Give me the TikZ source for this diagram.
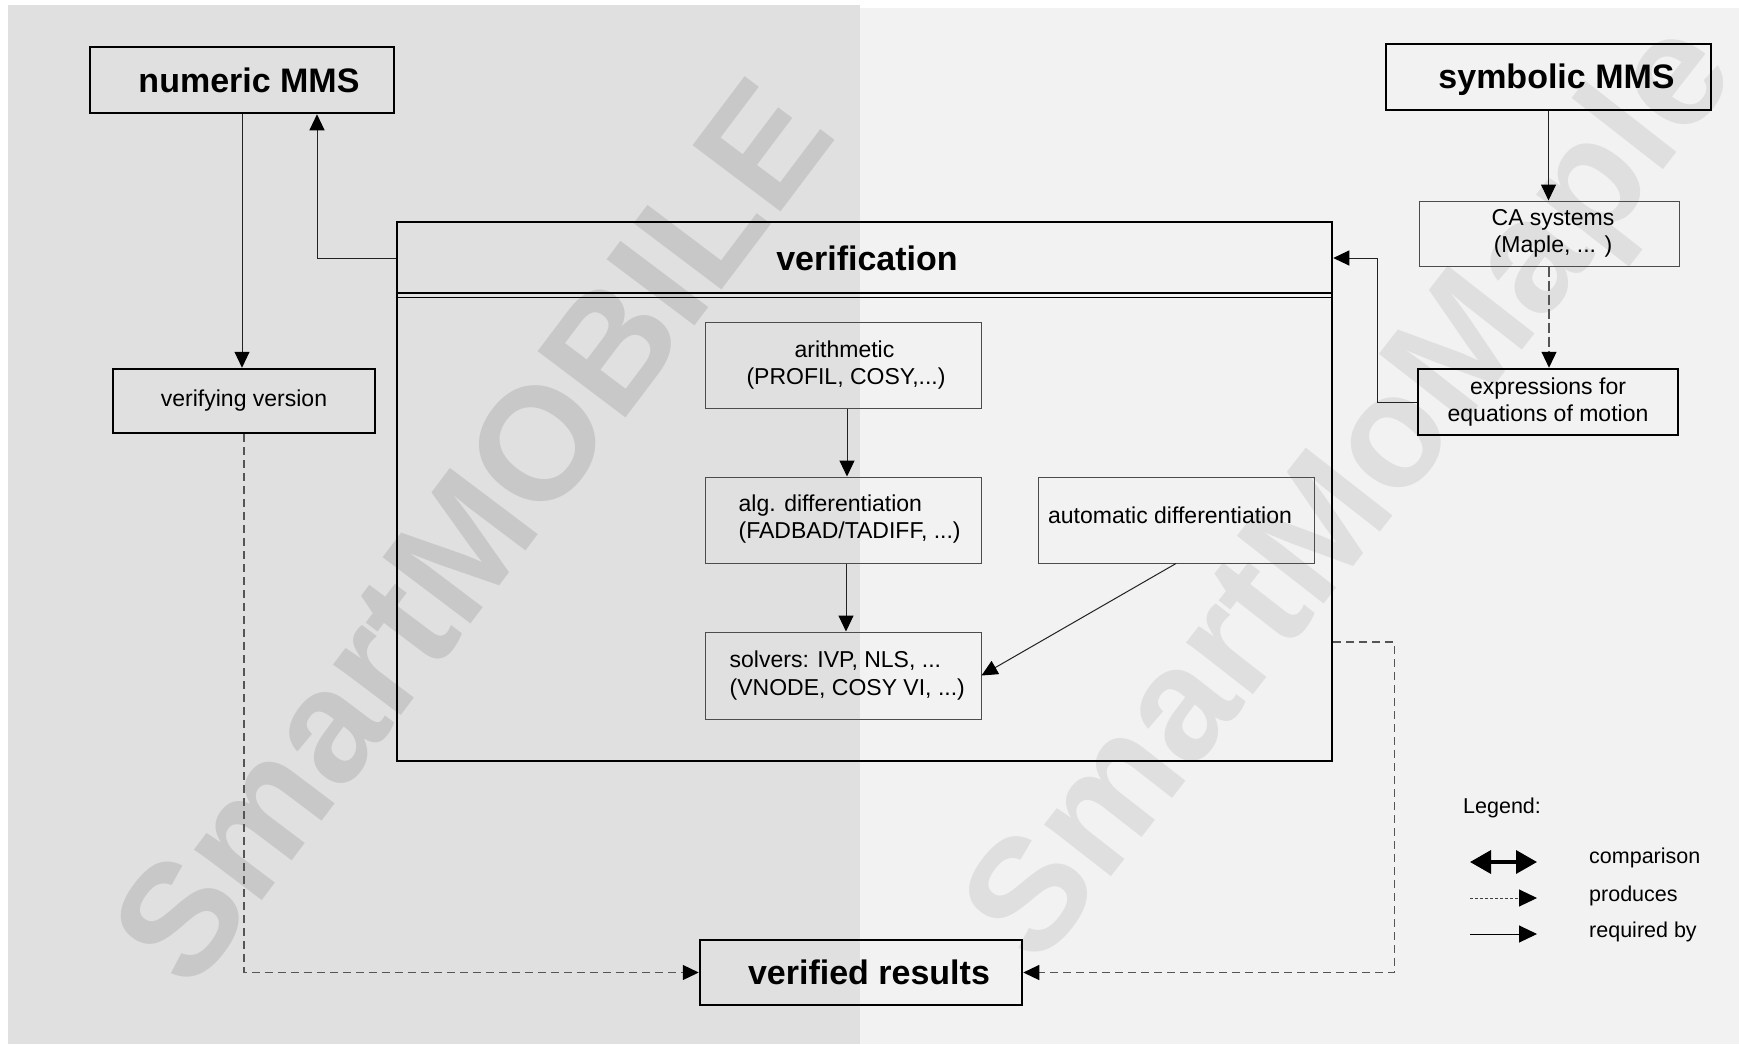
\documentclass[tikz,border=0pt]{standalone}
\usepackage{fontspec}
\setmainfont{Liberation Sans}
\usetikzlibrary{arrows.meta}
\definecolor{panelL}{HTML}{E0E0E0}
\definecolor{panelR}{HTML}{F2F2F2}
\definecolor{wmL}{HTML}{C8C8C8}
\definecolor{wmR}{HTML}{DFDFDF}
\definecolor{lineC}{HTML}{222222}
\definecolor{dashC}{HTML}{555555}
\begin{document}
\begin{tikzpicture}[x=1pt,y=-1pt,
  thickbox/.style={draw=black, line width=2.5pt, inner sep=0pt},
  thinbox/.style={draw=black!70, line width=1pt, inner sep=0pt},
  titlefont/.style={font=\fontsize{34}{38}\selectfont\bfseries},
  txt/.style={font=\fontsize{23}{27.5}\selectfont, inner sep=0pt},
  legtxt/.style={font=\fontsize{21.5}{25}\selectfont, inner sep=0pt, anchor=west},
  wm/.style={font=\fontsize{160}{160}\selectfont\bfseries, inner sep=0pt},
  tip/.style={-{Triangle[length=16pt,width=15pt,color=black]}},
  req/.style={draw=lineC, line width=1pt, tip},
  prod/.style={draw=dashC, line width=1.2pt, dash pattern=on 8pt off 5pt, tip},
]
\useasboundingbox (0,0) rectangle (1739,1044);
% panels
\fill[white] (0,0) rectangle (1739,1044);
\fill[panelL] (8,5) rectangle (860,1044);
\fill[panelR] (860,8) rectangle (1739,1044);
% watermarks
\node[wm, text=wmL, rotate=53] (wm1) at (471,532) {SmartMOBILE};
\node[wm, text=wmR, rotate=52] (wm2) at (1356,496) {SmartMoMaple};

% main boxes
\node[thickbox, minimum width=304, minimum height=66, titlefont] (numeric) at (242,80) {\hspace*{14pt}numeric MMS};
\node[thickbox, minimum width=325, minimum height=66, titlefont, text depth=2pt] (symbolic) at (1548.5,77) {\hspace*{16pt}symbolic MMS};
\node[thinbox, minimum width=260, minimum height=65, txt, align=center] (ca) at (1549,233.5) {\hspace*{8pt}CA systems\\\hspace*{8pt}(Maple, ... )};
\node[thickbox, minimum width=260, minimum height=66, txt, align=center] (expr) at (1548,402) {expressions for\\equations of motion};
\node[thickbox, minimum width=935, minimum height=539] (verif) at (864.5,491.5) {};
\node[titlefont, inner sep=0pt] (veriftitle) at (867,258) {verification};
\draw[line width=1.6pt] (verif.west |- 0,293) -- (verif.east |- 0,293);
\draw[line width=1.6pt] (verif.west |- 0,297.5) -- (verif.east |- 0,297.5);
\node[thickbox, minimum width=262, minimum height=64, txt] (verifying) at (244,401) {verifying version};
\node[thinbox, minimum width=276, minimum height=86, txt, align=center] (arith) at (843,365) {\hspace*{3pt}arithmetic\\\hspace*{6pt}(PROFIL, COSY,...)};
\node[thinbox, minimum width=276, minimum height=86] (alg) at (843,520) {};
\node[txt, align=left, anchor=west] (algtext) at ([xshift=34pt,yshift=1pt]alg.west) {alg. differentiation\\(FADBAD/TADIFF, ...)};
\node[thinbox, minimum width=276, minimum height=87] (solvers) at (843,675.5) {};
\node[txt, align=left, anchor=west] (solvtext) at ([xshift=25pt]solvers.west) {solvers: IVP, NLS, ...\\(VNODE, COSY VI, ...)};
\node[thinbox, minimum width=276, minimum height=86] (auto) at (1176,520) {};
\node[txt] (autotext) at (1170,515) {automatic differentiation};
\node[thickbox, minimum width=322, minimum height=65, titlefont] (verified) at (861,972.5) {\hspace*{16pt}verified results};

% helper coordinates
\coordinate (vw) at (verif.west |- veriftitle);
\coordinate (vt) at (verif.east |- veriftitle);
\coordinate (ve) at (verif.east |- 0,642);

% connectors
\draw[req] (numeric.south) -- (numeric.south |- verifying.north);
\draw[req] (vw) -| ([xshift=75pt]numeric.south);
\draw[req] (symbolic.south) -- (symbolic.south |- ca.north);
\draw[prod, dash pattern=on 10pt off 4pt] (ca.south) -- (ca.south |- expr.north);
\draw[req] (expr.west) -| ([xshift=44pt]vt) -- (vt);
\draw[req] ([xshift=4pt]arith.south) -- ([xshift=4pt]alg.north);
\draw[req] ([xshift=3pt]alg.south) -- ([xshift=3pt]solvers.north);
\draw[req] (auto.south) -- (solvers.east);
\draw[prod] (verifying.south) |- (verified.west);
\draw[prod] (ve) -- ([xshift=61pt]ve) |- (verified.east);

% legend
\node[legtxt] (legtitle) at (1463,808) {Legend:};
\coordinate (c1a) at (1470,862);
\coordinate (c1b) at (1537,862);
\coordinate (c2a) at (1470,898);
\coordinate (c2b) at (1537,898);
\coordinate (c3a) at (1470,934);
\coordinate (c3b) at (1537,934);
\draw[line width=3.5pt, {Triangle[length=21pt,width=23pt]}-{Triangle[length=21pt,width=23pt]}] (c1a) -- (c1b);
\draw[draw=black!75, line width=1pt, dash pattern=on 2.5pt off 2.5pt, -{Triangle[length=18pt,width=17pt,color=black]}] (c2a) -- (c2b);
\draw[draw=black, line width=1pt, -{Triangle[length=18pt,width=17pt]}] (c3a) -- (c3b);
\node[legtxt] (leg1) at (1589,858) {comparison};
\node[legtxt] (leg2) at (1589,896) {produces};
\node[legtxt] (leg3) at (1589,932) {required by};
\end{tikzpicture}
\end{document}
